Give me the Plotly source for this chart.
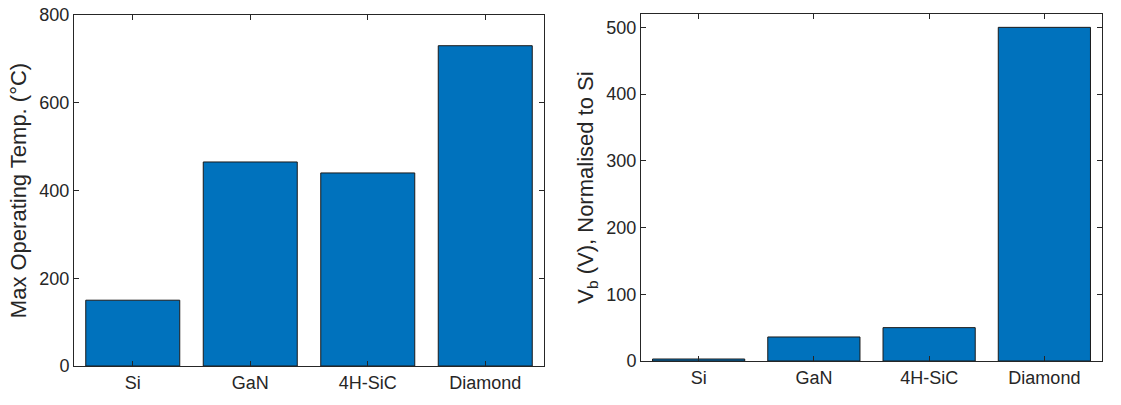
import plotly.graph_objects as go

categories = ["Si", "GaN", "4H-SiC", "Diamond"]
max_temp = [150, 465, 440, 730]
vb_norm = [3, 36, 50, 500]

BAR = "#0072BD"
AX = "#262626"
FONT = "Liberation Sans, Arial, Helvetica, sans-serif"

fig = go.Figure()
fig.add_trace(go.Bar(x=categories, y=max_temp, xaxis="x", yaxis="y", width=0.8,
                     marker=dict(color=BAR, line=dict(color="#1a1a1a", width=1)),
                     showlegend=False))
fig.add_trace(go.Bar(x=categories, y=vb_norm, xaxis="x2", yaxis="y2", width=0.8,
                     marker=dict(color=BAR, line=dict(color="#1a1a1a", width=1)),
                     showlegend=False))

common_x = dict(type="category", range=[-0.5, 3.5], showline=True, linecolor=AX, linewidth=1,
                mirror="allticks", ticks="inside", ticklen=5, tickcolor=AX, showgrid=False,
                zeroline=False, automargin=False, tickfont=dict(family=FONT, size=18, color=AX))
common_y = dict(showline=True, linecolor=AX, linewidth=1, mirror="allticks", ticks="inside",
                ticklen=5, tickcolor=AX, showgrid=False, zeroline=False, automargin=False,
                tickfont=dict(family=FONT, size=18, color=AX))

fig.update_layout(
    width=1121, height=405,
    margin=dict(l=0, r=0, t=0, b=0),
    plot_bgcolor="white", paper_bgcolor="white",
    bargap=0.2,
    xaxis=dict(domain=[74/1121, 544/1121], anchor="y", **common_x),
    yaxis=dict(domain=[1-366/405, 1-15/405], anchor="x", range=[0, 800], dtick=200,
               title=dict(text="Max Operating Temp. (°C)", font=dict(family=FONT, size=22, color=AX), standoff=6),
               **common_y),
    xaxis2=dict(domain=[641/1121, 1102/1121], anchor="y2", **common_x),
    yaxis2=dict(domain=[1-361/405, 1-14/405], anchor="x2", range=[0, 520], dtick=100,
                title=dict(text="V<sub>b</sub> (V), Normalised to Si", font=dict(family=FONT, size=22, color=AX), standoff=6),
                **common_y),
)

fig.write_html("out.html")
